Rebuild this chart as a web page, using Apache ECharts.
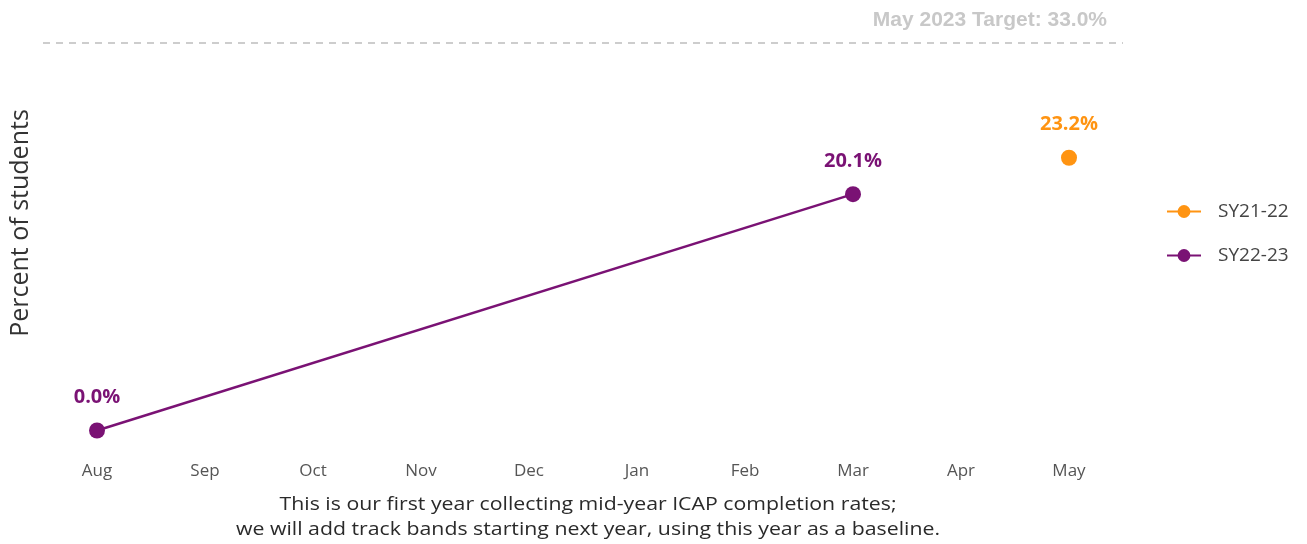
<!DOCTYPE html>
<html><head><meta charset="utf-8">
<script src="https://cdn.jsdelivr.net/npm/echarts@6/dist/echarts.min.js"></script>
<style>html,body{margin:0;padding:0;background:#fff}#c{width:1307px;height:544px}</style>
</head><body><div id="c"></div>
<script>
const months = ['Aug','Sep','Oct','Nov','Dec','Jan','Feb','Mar','Apr','May'];
const sy2122 = [null,null,null,null,null,null,null,null,null,23.2];
const sy2223 = [0.0,null,null,null,null,null,null,20.1,null,null];
const targetValue = 33.0;
const targetLabel = 'May 2023 Target: 33.0%';
const yTitle = 'Percent of students';
const footnote = 'This is our first year collecting mid-year ICAP completion rates;\nwe will add track bands starting next year, using this year as a baseline.';

const purple = '#7a1274', orange = '#ff9412';
const font = 'Open Sans';
const chart = echarts.init(document.getElementById('c'));
chart.setOption({
  animation: false,
  grid: {left: 43, right: 184, top: 19, bottom: 90},
  xAxis: {type: 'category', data: months, boundaryGap: true,
    axisLine: {show: false}, axisTick: {show: false}, splitLine: {show: false},
    axisLabel: {color: '#555', fontFamily: font, fontSize: 17, margin: 9}},
  yAxis: {type: 'value', min: -2, max: 35, show: false},
  legend: {orient: 'vertical', left: 1161, top: 197, itemGap: 25, itemWidth: 34, itemHeight: 16,
    textStyle: {fontFamily: font, fontSize: 19, color: '#444', padding: [0, 0, 0, 12]},
    data: ['SY21-22','SY22-23']},
  graphic: [
    {type: 'text', x: 21, y: 223, rotation: Math.PI/2,
      style: {text: yTitle, font: '25px "Open Sans"', fill: '#333', align: 'center', verticalAlign: 'middle'}},
    {type: 'text', x: 588, y: 517, scaleX: 1.12,
      style: {text: footnote, font: '19px "Open Sans"', fill: '#2a2a2a', align: 'center', verticalAlign: 'middle', lineHeight: 25}}
  ],
  series: [
    {name: 'SY21-22', type: 'line', data: sy2122, color: orange, symbol: 'circle', symbolSize: 16,
      connectNulls: true, lineStyle: {width: 2.5, color: orange},
      label: {show: true, position: 'top', distance: 15, color: orange, fontFamily: font, fontWeight: 'bold', fontSize: 20,
        formatter: p => p.value.toFixed(1) + '%'}},
    {name: 'SY22-23', type: 'line', data: sy2223, color: purple, symbol: 'circle', symbolSize: 16,
      connectNulls: true, lineStyle: {width: 2.5, color: purple},
      label: {show: true, position: 'top', distance: 15, color: purple, fontFamily: font, fontWeight: 'bold', fontSize: 20,
        formatter: p => p.value.toFixed(1) + '%'},
      markLine: {silent: true, symbol: 'none',
        lineStyle: {type: [7, 6], color: '#bdbdbd', width: 1.5},
        label: {show: true, position: 'insideEndTop', formatter: targetLabel, color: '#c8c8c8',
          fontFamily: 'Liberation Sans', fontWeight: 'bold', fontSize: 21, distance: 12, padding: [0, 4, 0, 0]},
        data: [{yAxis: targetValue}]}}
  ]
});
</script></body></html>
